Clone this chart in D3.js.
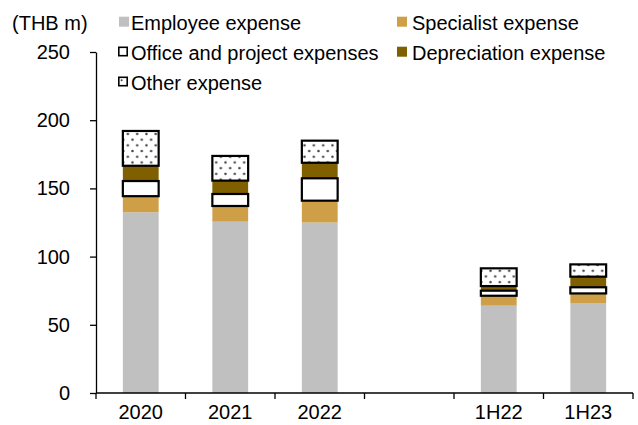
<!DOCTYPE html>
<html>
<head>
<meta charset="utf-8">
<script src="https://cdn.jsdelivr.net/npm/d3@7/dist/d3.min.js"></script>
<style>
  html, body { margin: 0; padding: 0; background: #fff; }
  svg { display: block; font-family: "Liberation Sans", Arial, sans-serif; }
</style>
</head>
<body>
<svg id="chart" width="638" height="425"></svg>
<script>
// Operating expense breakdown (THB m)
const categories = ["2020", "2021", "2022", "", "1H22", "1H23"];
const employee    = [132.5, 125.6, 125.0, null, 64.0, 66.0];
const specialist  = [11.8, 11.5, 16.0, null, 7.3, 7.0];
const office      = [11.1, 8.8, 16.4, null, 3.7, 4.5];
const depreciation= [11.2, 9.8, 11.4, null, 3.4, 7.8];
const other       = [25.5, 18.1, 16.2, null, 13.0, 9.0];
const yTicks = [0, 50, 100, 150, 200, 250];

const seriesKeys = ["employee", "specialist", "office", "depreciation", "other"];
const seriesNames = {
  employee: "Employee expense",
  specialist: "Specialist expense",
  office: "Office and project expenses",
  depreciation: "Depreciation expense",
  other: "Other expense"
};
const seriesValues = { employee, specialist, office, depreciation, other };

const svg = d3.select("#chart");
const margin = { left: 96, right: 5, top: 52, bottom: 32 };
const W = 638, H = 425;

// Pattern for "Other expense": staggered dark dots on white
const defs = svg.append("defs");
const pat = defs.append("pattern")
  .attr("id", "dots")
  .attr("patternUnits", "userSpaceOnUse")
  .attr("width", 9.3).attr("height", 11.4);
pat.append("rect").attr("width", 9.3).attr("height", 11.4).attr("fill", "#fff");
pat.append("circle").attr("cx", 2.3).attr("cy", 2.8).attr("r", 1.25).attr("fill", "#444");
pat.append("circle").attr("cx", 6.95).attr("cy", 8.5).attr("r", 1.25).attr("fill", "#444");

const x = d3.scaleBand()
  .domain(categories)
  .range([margin.left, W - margin.right])
  .paddingInner(0.6)
  .paddingOuter(0.3);

const y = d3.scaleLinear()
  .domain([0, 250])
  .range([H - margin.bottom - 0, margin.top]);

// Rows for stacking (blank slot has no data)
const rows = categories.map((c, i) => {
  const r = { cat: c };
  seriesKeys.forEach(k => r[k] = seriesValues[k][i] == null ? 0 : seriesValues[k][i]);
  r.hasData = employee[i] != null;
  return r;
});

const stacked = d3.stack().keys(seriesKeys)(rows);

const style = {
  employee:     { fill: "#C0C0C0", stroke: "none" },
  specialist:   { fill: "#CE9F46", stroke: "none" },
  office:       { fill: "#FFFFFF", stroke: "#000" },
  depreciation: { fill: "#7F5F00", stroke: "none" },
  other:        { fill: "url(#dots)", stroke: "#000" }
};

// Draw unstroked layers first, then outlined ones on top
const order = ["employee", "specialist", "depreciation", "office", "other"];
order.forEach(key => {
  const layer = stacked.find(s => s.key === key);
  svg.append("g")
    .selectAll("rect")
    .data(layer.filter(d => d.data.hasData))
    .join("rect")
    .attr("x", d => x(d.data.cat))
    .attr("width", x.bandwidth())
    .attr("y", d => y(d[1]))
    .attr("height", d => y(d[0]) - y(d[1]))
    .attr("fill", style[key].fill)
    .attr("stroke", style[key].stroke)
    .attr("stroke-width", style[key].stroke === "none" ? 0 : 2.2);
});

// Y axis
const yAxis = d3.axisLeft(y)
  .tickValues(yTicks)
  .tickSize(6)
  .tickPadding(20)
  .tickSizeOuter(0);
const gy = svg.append("g")
  .attr("transform", `translate(${margin.left},0)`)
  .call(yAxis);
gy.select(".domain").attr("stroke", "#000").attr("stroke-width", 1.3);
gy.selectAll(".tick line").attr("stroke", "#000").attr("stroke-width", 1.3);
gy.selectAll(".tick text")
  .attr("font-size", 20)
  .attr("fill", "#000")
  .attr("font-family", "Liberation Sans, Arial, sans-serif");

// X axis: baseline, boundary ticks, centered category labels
const xBase = y(0);
const step = x.step();
const gx = svg.append("g");
gx.append("line")
  .attr("x1", margin.left).attr("x2", W - margin.right)
  .attr("y1", xBase).attr("y2", xBase)
  .attr("stroke", "#000").attr("stroke-width", 1.3);
const boundaries = categories.map(c => x(c) - (step - x.bandwidth()) / 2)
  .concat([x(categories[categories.length - 1]) + x.bandwidth() + (step - x.bandwidth()) / 2]);
gx.selectAll("line.tick")
  .data(boundaries)
  .join("line")
  .attr("class", "tick")
  .attr("x1", d => d).attr("x2", d => d)
  .attr("y1", xBase).attr("y2", xBase + 6)
  .attr("stroke", "#000").attr("stroke-width", 1.3);
gx.selectAll("text")
  .data(categories)
  .join("text")
  .attr("x", d => x(d) + x.bandwidth() / 2)
  .attr("y", 419)
  .attr("text-anchor", "middle")
  .attr("font-size", 20)
  .attr("fill", "#000")
  .text(d => d);

// Unit label
svg.append("text")
  .attr("x", 12).attr("y", 30)
  .attr("font-size", 20)
  .attr("fill", "#000")
  .text("(THB m)");

// Legend
const legendItems = [
  { key: "employee",     col: 0, row: 0 },
  { key: "specialist",   col: 1, row: 0 },
  { key: "office",       col: 0, row: 1 },
  { key: "depreciation", col: 1, row: 1 },
  { key: "other",        col: 0, row: 2 }
];
const colX = [118, 396];
const rowY = [30, 60, 90];
const lg = svg.append("g");
legendItems.forEach(it => {
  const gx0 = colX[it.col], base = rowY[it.row];
  const outlined = style[it.key].stroke !== "none";
  if (it.key === "other") {
    lg.append("rect")
      .attr("x", gx0 + 0.8).attr("y", base - 12.7)
      .attr("width", 8.4).attr("height", 8.4)
      .attr("fill", "#fff").attr("stroke", "#000").attr("stroke-width", 1.6);
    lg.append("circle")
      .attr("cx", gx0 + 3.6).attr("cy", base - 9.8).attr("r", 1)
      .attr("fill", "#444");
  } else if (outlined) {
    lg.append("rect")
      .attr("x", gx0 + 0.8).attr("y", base - 12.7)
      .attr("width", 8.4).attr("height", 8.4)
      .attr("fill", style[it.key].fill).attr("stroke", "#000").attr("stroke-width", 1.6);
  } else {
    lg.append("rect")
      .attr("x", gx0 + 1).attr("y", base - 13.3)
      .attr("width", 10).attr("height", 10)
      .attr("fill", style[it.key].fill);
  }
  lg.append("text")
    .attr("x", gx0 + (it.col === 0 ? 13 : 16))
    .attr("y", base)
    .attr("font-size", 20)
    .attr("fill", "#000")
    .text(seriesNames[it.key]);
});
</script>
</body>
</html>
